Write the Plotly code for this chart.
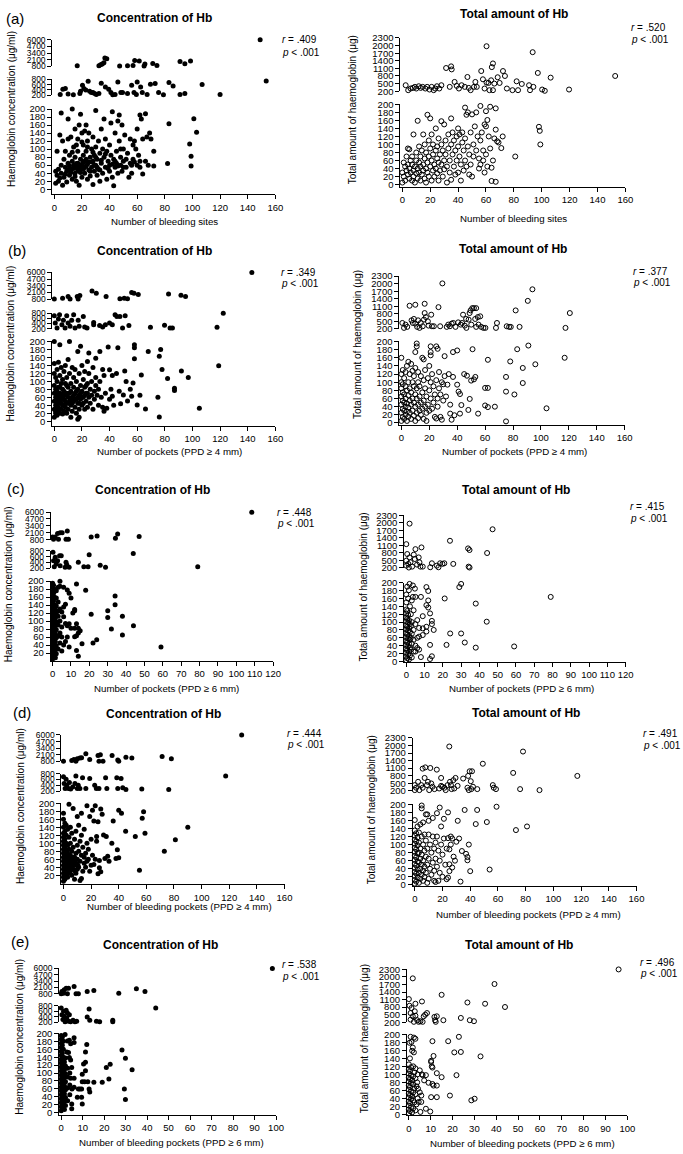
import plotly.graph_objects as go

W, H = 683, 1154
FONT = "Liberation Sans, Arial, sans-serif"

# ---------------- data (x, y) ----------------
A_CONC = [
 (16.6,930),(32.3,930),(33.5,1125),(34.7,1255),(35.9,1515),(36.6,2425),(38,2300),(47.3,860),(53,930),(57,995),
 (58.2,1970),(61.5,1840),(65,865),(65.6,1255),(71.3,1385),(74.3,995),(91,1775),(94.5,1320),(98.6,1840),(149,6000),
 (4.3,225),(6.2,425),(8,450),(10,240),(13.8,210),(18.5,262),(19,350),(20.4,575),(21.4,450),(22.8,390),(24.5,725),
 (25.6,350),(26.8,300),(28,300),(29.2,262),(30.4,225),(32.3,262),(34,650),(37,512),(39.4,425),(41,300),(42.3,210),
 (44,225),(46,700),(48.2,300),(49.4,300),(53,262),(56,575),(57.7,300),(59.4,225),(60,700),(62.5,512),(63.7,300),
 (67.2,225),(69.6,612),(73,637),(75.5,300),(79,210),(83,675),(86,550),(91,225),(94.5,262),(107,600),(120,225),(153.4,737),
 (1,45),(1,15),(2,35),(2,95),(3,50),(3,20),(4,135),(4,28),(5,190),(5,60),(5,40),(6,120),(6,10),(7,75),(7,30),(8,55),
 (8,95),(9,45),(9,18),(10,175),(10,65),(10,125),(11,35),(11,85),(12,130),(12,50),(13,200),(13,25),(13,70),(14,60),
 (14,105),(15,40),(15,150),(15,80),(16,55),(16,20),(17,125),(17,65),(17,95),(18,10),(18,45),(18,160),(19,75),(19,55),
 (19,187),(20,30),(20,140),(20,62),(21,50),(21,85),(21,110),(22,70),(22,145),(22,40),(23,58),(23,160),(23,95),(24,25),
 (24,120),(25,68),(25,48),(25,140),(26,80),(26,33),(27,100),(27,55),(28,12),(28,130),(28,70),(29,45),(29,85),(30,196),
 (30,60),(30,105),(31,35),(31,75),(32,50),(32,120),(33,90),(33,20),(34,65),(34,150),(35,100),(35,40),(36,175),(36,80),
 (37,55),(37,125),(38,25),(38,95),(39,70),(40,45),(40,110),(40,60),(41,165),(41,85),(42,193),(42,30),(43,9),(43,75),
 (44,55),(44,140),(45,95),(45,65),(46,170),(46,40),(47,185),(47,120),(48,60),(48,80),(49,160),(49,45),(50,100),(50,70),
 (51,135),(52,55),(53,90),(54,30),(55,125),(55,65),(56,40),(57,110),(57,75),(58,120),(59,100),(60,150),(60,60),(61,85),
 (62,185),(62,55),(63,175),(64,38),(64,125),(66,188),(66,70),(67,130),(68,60),(69,140),(70,125),(72,58),(72,95),(82,64),
 (83,163),(98,113),(99,82),(99,58),(101,176),(103,142),
 (14,52),(16,64),(18,58),(19,42),(20,52),(21,68),(22,55),(23,75),(24,62),(15,32),(12,42),(11,58),(17,48),(26,45),
 (27,68),(29,60),(31,55),(33,48),(8,38),(10,48),(13,92),(16,110),(20,118),(24,105),(28,92),(30,80),(34,72),(37,88),
 (39,52),(42,62),(44,70),(46,58),(48,100),(50,55),(52,75),(56,60),(58,68),(62,70),
]
A_TOT = [
 (2.4,435),(4.2,240),(5.9,305),(7.6,330),(9,370),(10,305),(11.8,395),(13.2,330),(14.6,370),(16.5,305),(17.8,370),
 (19.5,265),(21,370),(22.5,240),(23.6,305),(24.8,395),(26.5,305),(28,435),(31.4,1115),(35,1180),(35.4,1060),(34,370),
 (37.5,565),(39,410),(40.6,305),(42.5,435),(44.8,370),(46.7,760),(47.7,330),(49,240),(51.4,370),(52.4,565),(53.4,370),
 (56.6,995),(57.8,670),(59,305),(60.4,1975),(60.4,540),(61.8,525),(62.5,240),(63.7,630),(64.2,1150),(65,1295),(65,240),
 (66,500),(68.4,750),(69.8,525),(72.2,995),(73.6,800),(75,305),(79,240),(82,590),(83,240),(85.7,485),(90.9,435),
 (91.6,240),(94,370),(93.5,1740),(97.2,920),(100.3,265),(102.2,215),(106.4,735),(119.6,265),(148.2,2325),(152.7,800),
 (0,5),(0,30),(1,55),(1,20),(2,45),(2,10),(3,35),(3,70),(4,25),(4,90),(4,50),(5,15),(5,40),(5,88),(6,60),(6,30),(7,10),
 (7,50),(7,70),(8,125),(8,35),(8,20),(9,45),(9,5),(10,80),(10,28),(10,60),(11,159),(11,40),(11,15),(12,95),(12,55),
 (12,30),(13,70),(13,10),(13,45),(14,25),(14,85),(15,125),(15,50),(15,35),(16,65),(16,15),(16,100),(17,40),(17,80),
 (17,5),(18,174),(18,55),(18,30),(19,110),(19,70),(19,20),(20,165),(20,45),(20,90),(21,60),(21,10),(21,125),(22,35),
 (22,100),(22,75),(23,50),(23,20),(24,140),(24,85),(24,40),(25,65),(25,95),(25,28),(26,115),(26,55),(26,10),(27,75),
 (27,35),(28,158),(28,100),(28,50),(29,20),(29,85),(30,60),(30,150),(30,38),(31,110),(31,75),(32,45),(32,5),(33,125),
 (33,90),(34,60),(34,30),(35,165),(35,100),(35,12),(36,75),(36,130),(37,45),(37,110),(38,85),(38,25),(39,120),(39,60),
 (40,95),(40,30),(40,140),(41,70),(41,125),(42,50),(42,10),(43,105),(43,130),(44,85),(44,35),(45,192),(45,60),(45,115),
 (46,174),(46,45),(47,180),(47,95),(48,25),(48,75),(49,130),(49,50),(50,175),(50,20),(51,100),(51,70),(52,145),(53,180),
 (53,85),(54,120),(55,40),(55,65),(56,196),(56,110),(56,50),(57,130),(58,85),(58,60),(59,150),(59,30),(60,183),(60,145),
 (60,75),(61,161),(61,45),(62,120),(63,194),(63,90),(64,42),(64,9),(65,60),(66,115),(67,190),(67,137),(67,7),(68,108),
 (69,105),(71,91),(72,120),(81,70),(98,144),(98.6,134),(99,100),
]
B_CONC = [
 (0,830),(6,990),(10,1310),(11.4,830),(16.6,1310),(18.5,1500),(17.3,850),(27.3,2400),(30.4,1955),(37.5,1310),(47.5,860),
 (50.6,990),(53,860),(56,2080),(57.7,1955),(60.8,1700),(82.7,1830),(91.7,1570),(95,1310),(143,6000),
 (0,700),(0.7,420),(2,225),(3,570),(3.8,735),(5.5,350),(6.6,520),(7.8,225),(9,700),(10,420),(11.4,290),(12.6,520),
 (14,735),(15,225),(17.3,520),(18,290),(21,670),(22,265),(23.7,225),(28.5,350),(28.5,440),(32.8,315),(35,265),(37,350),
 (40,420),(42,350),(44,735),(45.3,670),(47.5,670),(49.4,225),(51.3,700),(54,315),(69.6,250),(79.8,330),(83.8,225),
 (85.5,225),(117.8,250),(122.3,790),
 (0,10),(0,30),(0,50),(0,70),(0,90),(0,120),(0,145),(0,200),(1,20),(1,60),(1,80),(1,110),(1,40),(2,15),(2,35),(2,55),
 (2,75),(2,100),(2,130),(3,25),(3,45),(3,65),(3,85),(3,148),(4,192),(4,20),(4,50),(4,70),(4,115),(5,30),(5,60),(5,95),
 (5,135),(6,18),(6,40),(6,80),(6,105),(7,25),(7,55),(7,75),(7,125),(8,35),(8,65),(8,140),(9,20),(9,45),(9,90),(9,110),
 (10,30),(10,60),(10,155),(10,85),(11,200),(11,50),(11,120),(12,10),(12,75),(12,40),(12,95),(13,25),(13,60),(13,135),
 (14,50),(14,85),(14,110),(15,35),(15,70),(15,130),(16,20),(16,55),(16,100),(17,175),(17,45),(17,80),(17,5),(18,30),
 (18,65),(18,120),(18,10),(19,188),(19,55),(19,90),(20,40),(20,75),(20,140),(21,60),(21,105),(22,30),(22,85),(22,125),
 (23,50),(23,70),(24,95),(24,35),(24,150),(25,171),(25,60),(25,120),(26,45),(26,80),(27,100),(27,65),(28,135),(28,30),
 (29,75),(29,55),(30,158),(30,90),(30,110),(31,65),(32,40),(32,80),(33,175),(33,100),(34,60),(35,130),(35,35),(36,115),
 (36,25),(37,70),(38,33),(39,186),(40,129),(40,55),(41,80),(42,115),(42,63),(43,40),(45,120),(46,184),(47,75),(48,44),
 (50,66),(51,126),(52,100),(53,51),(55,80),(56,63),(57,96),(58,192),(58,184),(58,157),(60,41),(62,65),(63,116),(66,31),
 (68,175),(75,60),(76,11),(76,163),(77,180),(78,130),(82,107),(87,83),(87,77),(92,126),(97,110),(105,33),(119,139),
 (1,25),(2,45),(3,35),(4,60),(5,45),(6,65),(7,40),(8,50),(9,70),(10,45),(11,70),(12,55),(13,45),(14,65),(15,55),
 (16,75),(17,60),(18,45),(19,70),(20,60),(21,45),(22,65),(23,90),(24,70),(8,95),(6,55),(4,85),(2,65),
]
B_TOT = [
 (0.7,435),(1.9,240),(3,370),(4.2,280),(5.9,1120),(7.3,540),(8.2,435),(9,595),(10,1160),(10,410),(11.3,280),(12,540),
 (13,240),(13.9,435),(15.3,305),(16.2,570),(16.7,1200),(16.7,830),(17.6,670),(19,500),(19.5,330),(21.4,765),(21.9,305),
 (23.3,305),(26.6,1065),(27.8,305),(29.4,2010),(32.5,280),(33.6,370),(34.8,305),(36,410),(37.2,435),(38.8,280),
 (40.7,460),(42.6,370),(43.5,435),(44.2,765),(45.4,330),(46.4,595),(46.6,240),(48.2,570),(48.9,830),(49.6,935),
 (50.1,370),(50.8,1025),(52,1025),(52.9,595),(53.6,1025),(53.6,280),(54.8,670),(55.3,370),(56.5,700),(57.2,280),
 (58.8,240),(60.2,240),(67.8,240),(68.5,435),(75.5,305),(77.2,280),(78.4,280),(81.9,935),(84.7,280),(90.6,1315),
 (93.9,1775),(117.6,240),(120.7,830),(142.6,2365),
 (0,5),(0,25),(0,45),(0,65),(0,85),(0,100),(0,120),(0,160),(1,15),(1,35),(1,55),(1,75),(1,95),(1,130),(2,10),(2,30),
 (2,50),(2,70),(2,110),(3,20),(3,40),(3,60),(3,90),(3,125),(4,5),(4,28),(4,48),(4,80),(4,140),(5,15),(5,38),(5,68),
 (5,100),(5,150),(6,25),(6,55),(6,85),(6,120),(7,10),(7,45),(7,75),(7,145),(8,30),(8,60),(8,100),(8,128),(9,18),(9,50),
 (9,90),(9,115),(10,5),(10,40),(10,70),(10,174),(10,135),(11,25),(11,60),(11,85),(11,195),(11,188),(12,12),(12,45),
 (12,100),(12,125),(13,30),(13,65),(13,90),(14,20),(14,50),(14,115),(15,160),(15,35),(15,75),(16,156),(16,10),(16,55),
 (16,105),(17,40),(17,85),(17,130),(18,25),(18,65),(18,5),(19,45),(19,110),(20,80),(20,30),(20,140),(21,188),(21,174),
 (21,166),(21,60),(21,100),(22,35),(22,120),(23,50),(23,90),(24,70),(24,15),(25,188),(25,11),(25,105),(26,182),(26,60),
 (26,40),(27,85),(27,125),(28,15),(28,70),(29,8),(29,100),(30,95),(30,55),(31,164),(31,115),(32,65),(33,94),(34,120),
 (35,23),(35,45),(36,8),(37,174),(37,113),(38,19),(40,178),(40,94),(41,77),(42,71),(42,23),(43,44),(45,120),(47,116),
 (48,32),(49,59),(50,104),(51,181),(52,107),(53,113),(55,23),(60,86),(60,43),(62,155),(62,39),(62,86),(67,40),(75,77),
 (75,113),(75,4),(78,151),(81,70),(83,181),(87,135),(87,98),(91,190),(96,144),(104,36),(117,160),
]
C_CONC = [
 (0,1300),(0.5,860),(1.4,1300),(2.7,1930),(4.1,2115),(5.2,2115),(3.2,860),(8,2430),(7.3,860),(8.6,860),(21,1300),
 (24.2,1490),(34.2,1050),(35.4,1865),(47.1,1365),(108.4,6000),
 (0.2,745),(0.5,460),(0.9,255),(1.4,575),(2,345),(2.7,460),(3.8,630),(4.1,290),(4.7,630),(6.8,235),(7.3,405),(7.7,325),
 (9,235),(14,405),(17,255),(19.3,255),(19.9,665),(25.9,300),(28.8,235),(43.9,710),(79,255),
 (0,5),(0,15),(0,25),(0,35),(0,45),(0,55),(0,65),(0,75),(0,85),(0,95),(0,105),(0,115),(0,125),(0,135),(0,145),(0,155),
 (0,165),(0,175),(0,185),(0,195),(0.5,10),(0.5,30),(0.5,50),(0.5,70),(0.5,90),(0.5,110),(0.5,130),(0.5,150),(0.5,170),
 (0.5,190),(1,20),(1,40),(1,60),(1,80),(1,100),(1,120),(1,140),(1,160),(1,180),(1.5,8),(1.5,28),(1.5,48),(1.5,68),
 (1.5,88),(1.5,108),(1.5,128),(2,18),(2,38),(2,58),(2,78),(2,98),(2,118),(2,138),(2,158),(2,176),(3,30),(3,62),(3,90),
 (3,112),(3,125),(3,148),(3,185),(4,200),(4,45),(4,70),(4,100),(4,130),(4,187),(5,25),(5,85),(5,123),(5,60),(6,40),
 (6,111),(6,135),(6,185),(7,49),(7,94),(7,142),(8,178),(8,88),(8,60),(9,170),(9,93),(9,35),(10,158),(10,82),(11,120),
 (12,129),(12,126),(12,82),(12,61),(13,193),(13,93),(13,63),(13,26),(14,70),(14,82),(14,12),(15,76),(16,43),(18,177),
 (21,117),(22,45),(24,53),(30,126),(30,109),(32,80),(34,163),(34,141),(38,112),(38,65),(44,88),(59,35),
]
C_TOT = [
 (1.8,1970),(0,1150),(0,490),(0,290),(0.5,755),(1.1,360),(1.4,215),(1.8,620),(2.3,425),(3.2,250),(4.1,730),(4.7,555),
 (5,950),(5.9,330),(6.8,620),(7.7,250),(7.2,425),(8.3,1020),(9,250),(13.1,225),(14,385),(16.7,290),(17.6,225),
 (18.5,385),(19.8,360),(20.8,385),(23.9,1285),(25.7,360),(33.8,980),(34.1,250),(34.6,215),(34.6,915),(44.2,795),
 (47.2,1745),(108.3,2340),
 (0,3),(0,12),(0,22),(0,32),(0,42),(0,52),(0,62),(0,72),(0,82),(0,92),(0,102),(0,112),(0,122),(0,132),(0,150),(0,170),
 (0.5,8),(0.5,28),(0.5,48),(0.5,68),(0.5,88),(0.5,108),(0.5,128),(0.5,190),(1,18),(1,38),(1,58),(1,78),(1,98),(1,118),
 (1,160),(1.4,181),(1.8,197),(1.5,5),(1.5,25),(1.5,45),(1.5,65),(1.5,85),(1.5,105),(2,15),(2,35),(2,55),(2,75),(2,95),
 (2,140),(2.5,30),(2.5,60),(2.5,90),(2.5,120),(3,10),(3,45),(3,70),(3,100),(3,155),(3.6,193),(3.6,164),(4,25),(4,55),
 (4,80),(4,130),(4.7,185),(5,164),(5,25),(5,95),(5,40),(6,34),(6,60),(6,105),(7,63),(7,85),(7,30),(8,11),(8,164),
 (9,67),(9,115),(9,84),(11,189),(11,88),(11,76),(12,179),(12,155),(11,143),(12,137),(13,122),(13,42),(13,6),(14,103),
 (14,95),(14,13),(15,80),(21,160),(22,42),(24,71),(29,189),(30,197),(30,71),(32,48),(38,147),(38,35),(44,101),(59,38),
 (79,164),
]
D_CONC = [
 (0,830),(6,995),(7.6,1190),(10,1320),(11.9,1450),(13.1,1515),(9,830),(16.2,2300),(19,1190),(25,1970),(26.7,2100),
 (25.7,830),(28.6,830),(35.2,1970),(39.3,1060),(40,830),(45.2,1645),(49.5,1450),(71.4,1775),(78.1,1320),(129,6000),
 (0,690),(0.5,460),(1.2,290),(1.9,610),(2.4,405),(3.6,290),(4.3,495),(5.2,270),(6.7,345),(8.3,460),(9,720),(10,290),
 (10.7,405),(11.9,290),(13.8,655),(16.2,290),(19,630),(22.6,405),(23.8,290),(25.7,290),(30.5,655),(31.4,290),(38.6,655),
 (39.3,290),(41.7,630),(42.9,315),(45.2,255),(56.7,270),(76.2,255),(117.4,720),
 (0,5),(0,15),(0,25),(0,35),(0,45),(0,55),(0,65),(0,75),(0,85),(0,95),(0,105),(0,115),(0,125),(0,140),(0,160),(0,175),
 (1,10),(1,30),(1,50),(1,70),(1,90),(1,110),(1,130),(1,150),(2,20),(2,40),(2,60),(2,80),(2,100),(2,120),(2,145),(3,15),
 (3,35),(3,55),(3,75),(3,95),(3,135),(4,198),(4,25),(4,45),(4,65),(4,85),(4,115),(5,30),(5,50),(5,70),(5,100),(5,140),
 (6,20),(6,40),(6,60),(6,80),(6,125),(7,187),(7,35),(7,55),(7,90),(8,10),(8,45),(8,65),(8,110),(9,25),(9,75),(9,130),
 (9,50),(10,167),(10,35),(10,60),(10,95),(11,40),(11,80),(11,145),(12,7),(12,55),(12,105),(13,175),(13,12),(13,70),
 (13,120),(14,30),(14,90),(15,50),(15,65),(15,135),(16,75),(16,40),(17,194),(17,100),(17,55),(18,85),(18,60),(19,167),
 (19,30),(20,45),(20,110),(21,183),(21,70),(22,156),(22,47),(23,194),(23,60),(24,117),(24,105),(25,154),(25,24),(26,57),
 (26,39),(27,186),(27,29),(28,173),(29,121),(30,62),(31,117),(32,68),(33,55),(35,100),(36,156),(38,62),(39,84),(40,183),
 (40,64),(42,175),(45,130),(52,117),(55,33),(57,163),(58,179),(59,125),(73,80),(81,109),(90,140),
 (0.5,20),(0.5,40),(0.5,60),(0.5,80),(0.5,100),(1.5,20),(1.5,40),(1.5,60),(1.5,80),(2.5,30),(2.5,50),(2.5,70),
 (3.5,45),(3.5,65),(4.5,35),(4.5,55),(5.5,40),(5.5,60),(6.5,50),(7.5,45),(7.5,65),(8.5,30),(9.5,60),(10.5,45),
]
D_TOT = [
 (0,225),(0,425),(1,320),(2.4,555),(3.3,225),(4.7,425),(5.7,320),(5.7,1080),(7.1,710),(7.6,1130),(8.8,425),(9.5,555),
 (10.4,225),(11.2,1105),(11.9,490),(12.8,360),(14.2,265),(15.9,1040),(17.6,290),(19,710),(19,395),(19.9,360),(21.4,320),
 (22.3,225),(23.7,425),(24.9,1960),(25.4,555),(26.1,425),(26.6,265),(27.8,620),(28.5,290),(29.4,710),(30.9,395),
 (34.9,685),(38,320),(38.5,790),(39.6,975),(41.3,975),(39,225),(40.4,580),(40.8,265),(42,360),(45.1,265),(49.1,1275),
 (56.3,425),(57,320),(58.6,265),(71,910),(76,265),(78.1,1760),(90,225),(117.3,790),(129.1,2325),
 (0,3),(0,12),(0,22),(0,32),(0,42),(0,52),(0,62),(0,72),(0,82),(0,92),(0,102),(0,112),(0,122),(0,135),(0,161),(1,8),
 (1,28),(1,48),(1,68),(1,88),(1,108),(1,128),(2,18),(2,38),(2,58),(2,78),(2,98),(2,118),(2,145),(3,5),(3,30),(3,55),
 (3,80),(3,105),(3,130),(4,15),(4,40),(4,65),(4,90),(4,150),(5,197),(5,190),(5,25),(5,50),(5,75),(5,120),(6,10),(6,35),
 (6,60),(6,100),(6,155),(7,20),(7,45),(7,85),(7,125),(8,175),(8,30),(8,70),(8,110),(9,175),(9,5),(9,50),(9,90),(10,159),
 (10,15),(10,65),(10,125),(11,40),(11,100),(12,80),(12,25),(13,166),(13,55),(13,120),(14,10),(14,35),(14,90),(15,7),
 (15,65),(15,105),(16,178),(16,45),(16,120),(17,85),(17,10),(18,192),(18,60),(18,30),(19,145),(19,100),(20,75),(20,20),
 (21,164),(21,115),(22,50),(23,90),(23,14),(24,180),(24,116),(24,18),(25,88),(25,51),(25,34),(26,100),(26,120),(27,115),
 (27,43),(28,70),(29,60),(30,107),(31,159),(32,115),(33,8),(34,84),(36,186),(37,77),(38,69),(38,61),(39,100),(40,34),
 (44,151),(45,186),(52,156),(54,38),(59,194),(73,136),(81,145),
]
E_CONC = [
 (0,830),(0.3,1270),(1.4,1610),(2.3,1950),(3.4,1950),(1.1,935),(2.9,830),(6,2285),(6.9,830),(8,830),(12.1,1270),
 (15.2,1475),(26.8,935),(35,1815),(39,1270),(98.3,6000),
 (0,715),(0.3,475),(0.8,295),(1.1,595),(1.4,415),(1.8,215),(2.3,630),(2.6,355),(2.9,535),(3.4,235),(3.8,475),(4.4,215),
 (5.5,270),(6.4,215),(7.2,235),(12.1,390),(13,680),(13.3,270),(16.4,235),(17.9,215),(24,270),(24,215),(44,715),
 (0,5),(0,15),(0,25),(0,35),(0,45),(0,55),(0,65),(0,75),(0,85),(0,95),(0,105),(0,115),(0,125),(0,135),(0,145),(0,155),
 (0,165),(0,175),(0,185),(0,195),(0.5,10),(0.5,30),(0.5,50),(0.5,70),(0.5,90),(0.5,110),(0.5,130),(0.5,150),(0.5,170),
 (0.5,190),(1,20),(1,40),(1,60),(1,80),(1,100),(1,120),(1,140),(1,160),(1,180),(1.5,8),(1.5,28),(1.5,48),(1.5,68),
 (1.5,88),(1.5,108),(1.5,128),(1.8,197),(2,18),(2,38),(2,58),(2,78),(2,98),(2,118),(2,138),(2.6,153),(2.9,181),(3,30),
 (3,62),(3,90),(3,112),(3.4,152),(3.8,183),(3.8,139),(4,45),(4,70),(4,100),(4.4,174),(4.4,133),(4.4,87),(4.9,114),
 (4.9,22),(4.9,10),(5,60),(6,189),(6,177),(6,87),(6,64),(7.5,39),(8,60),(8.7,60),(9.5,60),(9.5,39),(9.8,22),(9.8,97),
 (9.8,78),(10.4,123),(10.9,78),(11.3,127),(11.3,106),(11.3,153),(11.9,172),(12.4,78),(13,60),(13.3,52),(15.2,77),
 (19.1,77),(21,114),(22.2,85),(22.8,122),(28.3,158),(29.4,60),(29.9,137),(29.9,33),(33,108),
]
E_TOT = [
 (1.8,1945),(0,1120),(0.3,855),(0.8,305),(0.8,565),(1.2,765),(1.8,435),(2.3,215),(2.7,635),(3,935),(3,460),(3.8,280),
 (4.5,215),(5.3,240),(6,1025),(6.3,215),(6.8,435),(7.5,500),(8.3,565),(11.7,410),(12,280),(12.3,215),(12.8,435),
 (15.8,280),(15,1290),(23.8,370),(26.8,985),(27.9,280),(29.8,240),(34.9,935),(39.2,1720),(44,805),(96,2300),
 (0,3),(0,12),(0,22),(0,32),(0,42),(0,52),(0,62),(0,72),(0,82),(0,92),(0,102),(0,112),(0,125),(0.3,179),(0.8,194),
 (0.5,8),(0.5,28),(0.5,48),(0.5,68),(0.5,88),(0.5,108),(0.5,140),(1,18),(1,38),(1,58),(1,78),(1,98),(1,118),(1.2,181),
 (1.5,159),(1.5,5),(1.5,45),(1.5,85),(2,15),(2,35),(2,55),(2,75),(2,95),(2,120),(2.3,192),(2.3,155),(1.8,167),(2.5,30),
 (2.5,65),(2.5,105),(3,189),(3,10),(3,50),(3,90),(3,115),(3.5,25),(3.5,70),(3.8,80),(4,40),(4,100),(4.2,64),(4.5,31),
 (5,55),(5,110),(5.3,6),(5.7,31),(5.7,47),(6,100),(6.3,98),(7,85),(7.8,98),(7.8,14),(9,79),(9.8,7),(10.2,134),
 (10.2,131),(10.2,43),(10.5,120),(10.8,183),(10.8,117),(10.8,76),(11.3,146),(11.3,72),(12.8,103),(12.8,72),(12.8,43),
 (15,93),(18,183),(18.8,47),(20.8,155),(21.8,98),(22.9,194),(23.8,156),(28.6,35),(30.1,39),(32.8,145),
]

PANEL_LETTERS = ["(a)", "(b)", "(c)", "(d)", "(e)"]
X_TITLES = ["Number of bleeding sites", "Number of pockets (PPD \u2265 4 mm)", "Number of pockets (PPD \u2265 6 mm)",
            "Number of bleeding pockets (PPD \u2265 4 mm)", "Number of bleeding pockets (PPD \u2265 6 mm)"]
X_MAX = [160, 160, 120, 160, 100]
X_STEP = [20, 20, 10, 20, 10]
R_CONC = [".409", ".349", ".448", ".444", ".538"]
R_TOT = [".520", ".377", ".415", ".491", ".496"]
CONC_DATA = [A_CONC, B_CONC, C_CONC, D_CONC, E_CONC]
TOT_DATA = [A_TOT, B_TOT, C_TOT, D_TOT, E_TOT]
CONC_LOW_TICKS = [list(range(0, 201, 20)), list(range(0, 201, 20)), list(range(20, 201, 20)),
                  list(range(20, 201, 20)), list(range(0, 201, 20))]
CONC_MID_TICKS = [200, 400, 600, 800]
CONC_TOP_TICKS = [800, 2100, 3400, 4700, 6000]
TOT_LOW_TICKS = list(range(0, 201, 20))
TOT_TOP_TICKS = list(range(200, 2301, 300))

# ---------------- layout geometry (pixels) ----------------
GEO_L = [
    (54, 278, (190, 185, 104), (90, 74), (61, 34)),
    (54, 278, (424, 419.3, 338.7), (325.7, 310), (296, 269)),
    (52.3, 275.7, (661.3, 661.3, 580.7), (567.7, 550), (538.7, 511)),
    (63.3, 287.3, (886.7, 885.8, 805), (792.7, 775), (762.7, 736)),
    (61, 278.7, (1119.3, 1117.3, 1037.3), (1026, 1009.3), (997.3, 971.7)),
]
GEO_R = [
    (406.7, 632.7, (182.7, 180.3, 99.3), (86, 32.3)),
    (405.7, 632, (422.7, 421, 338.7), (326, 272.7)),
    (410.7, 633, (662.3, 661.7, 582.3), (567.3, 514.3)),
    (419.3, 644, (888, 887.3, 806), (792.3, 739)),
    (413.3, 634.7, (1120, 1119, 1038.3), (1026, 972.7)),
]
TXT_L = dict(letter=[(3, 13), (5, 247), (4, 487), (10, 713), (8, 945)],
             title=[(156, 12), (156, 247), (154, 489), (165, 715), (162, 948)],
             xt=[(166, 218), (171, 450), (168, 689), (181, 909), (173, 1147)],
             yt=[(10, 104), (10, 341), (8, 584), (20, 808), (18, 1041)],
             rp=[(283, 34, 47), (282, 269, 280), (278, 511, 522), (288, 734, 746), (283, 968, 980)])
TXT_R = dict(title=[(520, 8), (519, 245), (522, 489), (532, 714), (525, 948)],
             xt=[(519, 215), (520, 450), (527, 689), (535, 917), (528, 1148)],
             yt=[(357, 105), (361, 342), (367, 587), (375, 812), (368, 1043)],
             rp=[(636, 22, 34), (638, 268, 279), (635, 505, 517), (649, 735, 747), (646, 966, 977)])

fig = go.Figure()
LAY = {}
AX = {"n": 0}
TICKFONT = dict(family=FONT, size=9.5, color="black")
TICKFONT_SMALL = dict(family=FONT, size=8.5, color="black")
FILLED = dict(symbol="circle", size=5, color="black", line=dict(width=0))
OPEN = dict(symbol="circle-open", size=5, color="black", line=dict(width=1, color="black"))


def px_x(p):
    return p / W


def px_y(p):
    return 1 - p / H


def add_segment(x0px, x1px, xmax, xstep, ybot, ytop, yrange, ticks, pts, marker, show_x, tfont):
    AX["n"] += 1
    k = AX["n"]
    sfx = "" if k == 1 else str(k)
    xpad = 2.0 * xmax / (x1px - x0px)
    LAY["xaxis" + sfx] = dict(
        domain=[px_x(x0px - 2), px_x(x1px)], range=[-xpad, xmax], anchor="y" + sfx,
        visible=show_x, showline=True, linecolor="black", linewidth=1, ticks="outside", ticklen=4,
        tickwidth=1, tickcolor="black", tickvals=list(range(0, xmax + 1, xstep)), showgrid=False,
        zeroline=False, tickfont=TICKFONT, fixedrange=True)
    LAY["yaxis" + sfx] = dict(
        domain=[px_y(ybot), px_y(ytop)], range=yrange, anchor="x" + sfx, showline=True,
        linecolor="black", linewidth=1, ticks="outside", ticklen=4, tickwidth=1, tickcolor="black",
        tickvals=ticks, showgrid=False, zeroline=False, tickfont=tfont, fixedrange=True)
    fig.add_trace(go.Scatter(
        x=[p[0] for p in pts], y=[p[1] for p in pts], mode="markers", marker=marker,
        xaxis="x" + sfx, yaxis="y" + sfx, cliponaxis=False, showlegend=False, hoverinfo="skip"))


for i in range(5):
    xmax, xstep = X_MAX[i], X_STEP[i]
    x0, x1, (ax_px, z_px, p200), (m200, m800), (t800, t6000) = GEO_L[i]
    d = CONC_DATA[i]
    pad = (ax_px - z_px) / (z_px - p200) * 200
    add_segment(x0, x1, xmax, xstep, ax_px, p200, [-pad, 200], CONC_LOW_TICKS[i],
                [p for p in d if p[1] <= 200], FILLED, True, TICKFONT)
    add_segment(x0, x1, xmax, xstep, m200, m800, [200, 800], CONC_MID_TICKS,
                [p for p in d if 200 < p[1] <= 800], FILLED, False, TICKFONT_SMALL)
    add_segment(x0, x1, xmax, xstep, t800, t6000, [800, 6000], CONC_TOP_TICKS,
                [p for p in d if p[1] > 800], FILLED, False, TICKFONT_SMALL)
    x0, x1, (ax_px, z_px, p200), (t200, t2300) = GEO_R[i]
    d = TOT_DATA[i]
    pad = (ax_px - z_px) / (z_px - p200) * 200
    add_segment(x0, x1, xmax, xstep, ax_px, p200, [-pad, 200], TOT_LOW_TICKS,
                [p for p in d if p[1] <= 200], OPEN, True, TICKFONT)
    add_segment(x0, x1, xmax, xstep, t200, t2300, [200, 2300], TOT_TOP_TICKS,
                [p for p in d if p[1] > 200], OPEN, False, TICKFONT)

ANN = []


def txt(text, x, y, size=10, xanchor="center", angle=0):
    ANN.append(dict(text=text, x=px_x(x), y=px_y(y), xref="paper", yref="paper", showarrow=False,
                    xanchor=xanchor, yanchor="middle", textangle=angle,
                    font=dict(family=FONT, size=size, color="black")))


for i in range(5):
    lx, ly = TXT_L["letter"][i]
    txt(PANEL_LETTERS[i], lx, ly, size=15, xanchor="left")
    tx, ty = TXT_L["title"][i]
    txt("<b>Concentration of Hb</b>", tx, ty, size=12)
    tx, ty = TXT_R["title"][i]
    txt("<b>Total amount of Hb</b>", tx, ty, size=12)
    tx, ty = TXT_L["xt"][i]
    txt(X_TITLES[i], tx, ty, size=9.7)
    tx, ty = TXT_R["xt"][i]
    txt(X_TITLES[i], tx, ty, size=9.7)
    tx, ty = TXT_L["yt"][i]
    txt("Haemoglobin concentration (\u03bcg/ml)", tx, ty, size=10, angle=-90)
    tx, ty = TXT_R["yt"][i]
    txt("Total amount of haemoglobin (\u03bcg)", tx, ty, size=10, angle=-90)
    rx, ry, py = TXT_L["rp"][i]
    txt("<i>r</i> = " + R_CONC[i], rx, ry, size=10, xanchor="left")
    txt("<i>p</i> &lt; .001", rx, py, size=10, xanchor="left")
    rx, ry, py = TXT_R["rp"][i]
    txt("<i>r</i> = " + R_TOT[i], rx, ry, size=10, xanchor="left")
    txt("<i>p</i> &lt; .001", rx, py, size=10, xanchor="left")

fig.update_layout(width=W, height=H, autosize=False, margin=dict(l=0, r=0, t=0, b=0),
                  paper_bgcolor="white", plot_bgcolor="white", showlegend=False,
                  font=dict(family=FONT, size=10, color="black"), annotations=ANN, **LAY)
fig.write_html("out.html", config={"displayModeBar": False},
               post_script="document.body.style.margin='0px';")
